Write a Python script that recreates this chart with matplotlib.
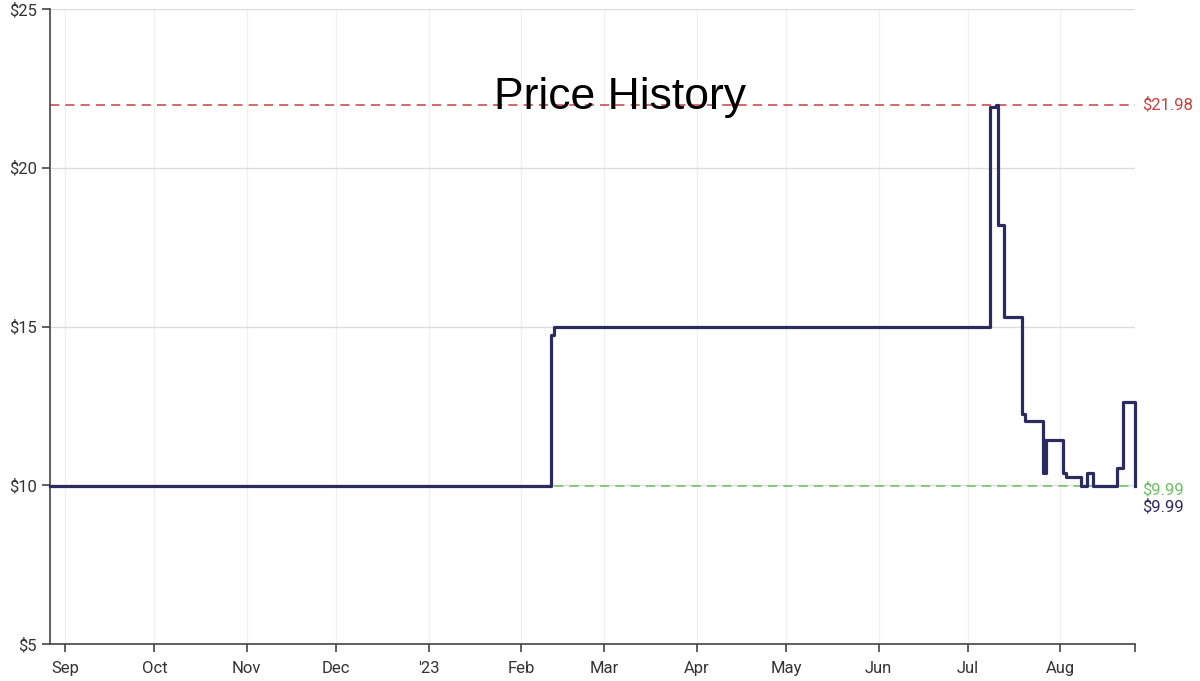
from datetime import datetime

from matplotlib import pyplot as plt
import matplotlib.dates as mdates

plt.rcParams["font.family"] = ["Roboto", "DejaVu Sans"]

# price changes (step, held until next change)
dates = [
    "2022-08-27", "2023-02-11", "2023-02-12", "2023-07-08 12:00", "2023-07-10 12:00",
    "2023-07-11", "2023-07-13", "2023-07-19", "2023-07-20", "2023-07-26",
    "2023-07-26 08:00", "2023-07-26 16:00", "2023-07-27", "2023-08-02", "2023-08-03",
    "2023-08-08", "2023-08-10", "2023-08-12", "2023-08-20", "2023-08-22",
    "2023-08-26",
]
prices = [
    9.99, 14.72, 14.99, 21.90, 21.98,
    18.20, 15.30, 12.24, 12.02, 10.39,
    11.43, 10.39, 11.43, 10.40, 10.26,
    9.99, 10.40, 9.99, 10.55, 12.63,
    9.99,
]
highest = 21.98
lowest = 9.99
current = 9.99

month_ticks = ["2022-09-01", "2022-10-01", "2022-11-01", "2022-12-01", "2023-01-01",
               "2023-02-01", "2023-03-01", "2023-04-01", "2023-05-01", "2023-06-01",
               "2023-07-01", "2023-08-01", "2023-08-26"]
month_labels = ["Sep", "Oct", "Nov", "Dec", "'23", "Feb", "Mar", "Apr", "May", "Jun",
                "Jul", "Aug", ""]

x = [datetime.fromisoformat(d) for d in dates]
start = datetime(2022, 8, 27)
end = datetime(2023, 8, 26)

fig = plt.figure(figsize=(12, 6.81), dpi=100)
ax = fig.add_axes([0.0417, 0.0543, 0.9041, 0.9325])

ax.axhline(highest, color="#c8403f", linestyle=(0, (6, 4)), linewidth=1.1, zorder=2)
ax.axhline(lowest, color="#6cbf5f", linestyle=(0, (6, 4)), linewidth=1.1, zorder=2)
ax.step(x, prices, where="post", color="#2b2b5f", linewidth=2.3, zorder=3, clip_on=False)

ax.set_xlim(start, end)
ax.set_ylim(5, 25)
ax.set_yticks([5, 10, 15, 20, 25])
ax.set_yticklabels(["$5", "$10", "$15", "$20", "$25"])
ax.set_xticks([mdates.date2num(datetime.fromisoformat(d)) for d in month_ticks])
ax.set_xticklabels(month_labels)

ax.grid(axis="y", color="#dcdcdc", linewidth=1.0, zorder=0)
ax.grid(axis="x", color="#f0f0f0", linewidth=1.0, zorder=0)
for side in ["top", "right"]:
    ax.spines[side].set_visible(False)
for side in ["left", "bottom"]:
    ax.spines[side].set_color("#444444")
    ax.spines[side].set_linewidth(1.2)
ax.tick_params(axis="both", colors="#444444", labelcolor="#333333", labelsize=12,
               length=6, width=1.2, direction="out")
ax.tick_params(axis="x", pad=6)

trans = ax.get_yaxis_transform()
ax.text(1.007, highest, f"${highest:.2f}", transform=trans, color="#c8403f",
        fontsize=12, va="center", ha="left")
ax.text(1.007, lowest - 0.12, f"${lowest:.2f}", transform=trans, color="#6cbf5f",
        fontsize=12, va="center", ha="left")
ax.text(1.007, current - 0.67, f"${current:.2f}", transform=trans, color="#2b2b5f",
        fontsize=12, va="center", ha="left")

ax.text(0.525, 0.86, "Price History", transform=ax.transAxes, ha="center", va="center",
        fontsize=32, color="black", family=["Liberation Sans", "DejaVu Sans"])

plt.savefig("out.png", dpi=100)
plt.close()
